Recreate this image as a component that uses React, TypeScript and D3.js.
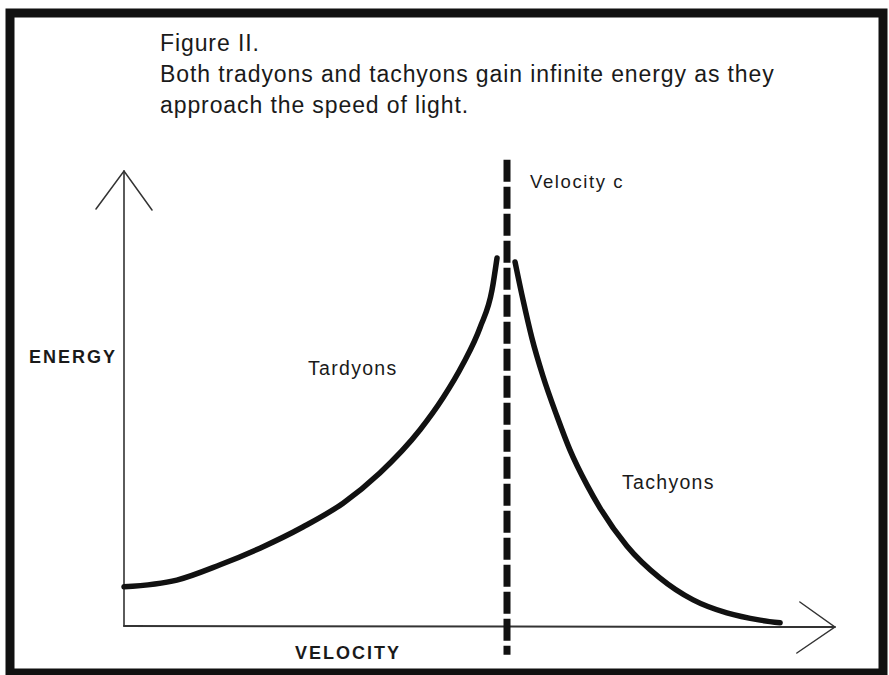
import React from 'react';
import * as d3 from 'd3';

// velocity in units of c, energy in arbitrary units
const tardyonV = [0, 0.138, 0.251, 0.355, 0.467, 0.572, 0.668, 0.773, 0.833, 0.885, 0.93, 0.961, 0.974];
const tardyonE = [0.87, 1.02, 1.36, 1.73, 2.2, 2.73, 3.4, 4.36, 5.07, 5.82, 6.64, 7.47, 8.18];

const tachyonV = [1.021, 1.042, 1.065, 1.094, 1.131, 1.164, 1.209, 1.243, 1.313, 1.399, 1.486, 1.574, 1.661, 1.713];
const tachyonE = [8.09, 7.24, 6.4, 5.55, 4.65, 3.92, 3.13, 2.62, 1.78, 1.07, 0.58, 0.29, 0.13, 0.07];

const lightSpeed = 1;
const lightLineE = [10.36, -0.64];
const axisMaxV = 1.856;
const axisMaxE = 10.11;

const titleLines = [
  'Figure II.',
  'Both tradyons and tachyons gain infinite energy as they',
  'approach the speed of light.',
];

const width = 889;
const height = 675;
const font = "'Liberation Sans', Arial, Helvetica, sans-serif";
const ink = '#1a1a1a';

const App: React.FC = () => {
  const x = d3.scaleLinear().domain([0, 1]).range([124, 507]);
  const y = d3.scaleLinear().domain([0, 10]).range([626, 176]);

  const line = d3
    .line<[number, number]>()
    .x((d) => x(d[0]))
    .y((d) => y(d[1]))
    .curve(d3.curveMonotoneX);

  const tardyons = tardyonV.map((v, i) => [v, tardyonE[i]] as [number, number]);
  const tachyons = tachyonV.map((v, i) => [v, tachyonE[i]] as [number, number]);

  const x0 = x(0);
  const y0 = y(0);
  const xTip = x(axisMaxV);
  const yTip = y(axisMaxE);

  return (
    <svg
      width={width}
      height={height}
      style={{ position: 'absolute', left: 0, top: 0, background: '#fff' }}
    >
      <rect x={0} y={0} width={width} height={height} fill="#fff" />
      {/* frame */}
      <rect x={10} y={13} width={873} height={660} fill="none" stroke="#111" strokeWidth={9} />

      {/* title */}
      <g fontFamily={font} fill={ink} fontSize={23} letterSpacing={0.9}>
        {titleLines.map((t, i) => (
          <text key={i} x={160} y={51 + i * 31}>
            {t}
          </text>
        ))}
      </g>

      {/* axes */}
      <g stroke="#333" fill="none" strokeLinecap="round">
        <line x1={x0} y1={y0} x2={x0} y2={yTip} strokeWidth={1.6} />
        <polyline points={`${x0 - 28},${yTip + 38} ${x0},${yTip} ${x0 + 28},${yTip + 39}`} strokeWidth={1.5} />
        <line x1={x0} y1={y0} x2={xTip} y2={y0 + 1} strokeWidth={2} />
        <polyline points={`${xTip - 35},${y0 - 24} ${xTip},${y0 + 1} ${xTip - 38},${y0 + 27}`} strokeWidth={1.5} />
      </g>

      {/* speed of light */}
      <line
        x1={x(lightSpeed)}
        x2={x(lightSpeed)}
        y1={y(lightLineE[0])}
        y2={y(lightLineE[1])}
        stroke="#111"
        strokeWidth={7}
        strokeDasharray="22 5"
      />

      {/* curves */}
      <path d={line(tardyons) ?? ''} fill="none" stroke="#111" strokeWidth={5.5} strokeLinecap="round" />
      <path d={line(tachyons) ?? ''} fill="none" stroke="#111" strokeWidth={5.5} strokeLinecap="round" />

      {/* labels */}
      <g fontFamily={font} fill={ink}>
        <text x={530} y={188} fontSize={18.5} letterSpacing={1.6}>Velocity c</text>
        <text x={308} y={375} fontSize={19.5} letterSpacing={1.3}>Tardyons</text>
        <text x={622} y={489} fontSize={19.5} letterSpacing={1.3}>Tachyons</text>
        <text x={29} y={363} fontSize={18} fontWeight="bold" letterSpacing={2}>ENERGY</text>
        <text x={295} y={659} fontSize={18} fontWeight="bold" letterSpacing={2}>VELOCITY</text>
      </g>
    </svg>
  );
};

export default App;
